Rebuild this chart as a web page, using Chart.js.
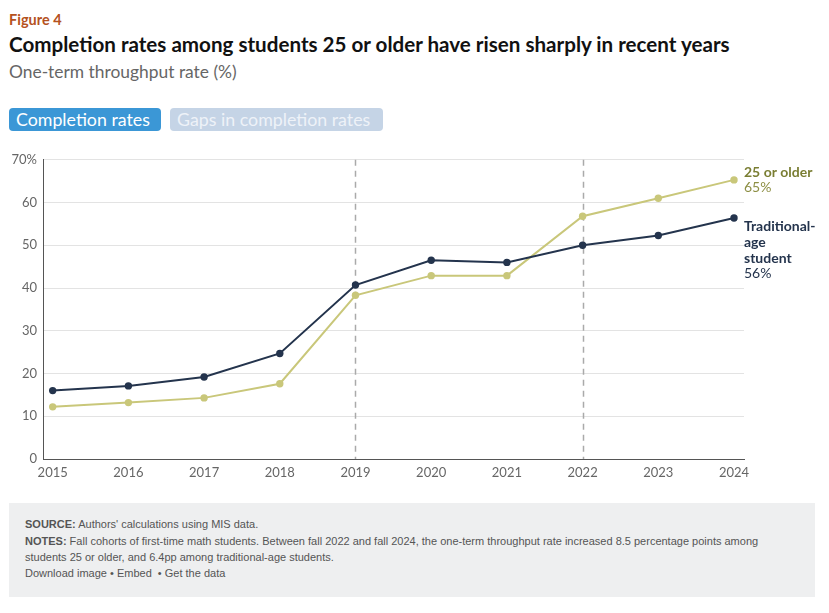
<!DOCTYPE html>
<html>
<head>
<meta charset="utf-8">
<script src="https://cdn.jsdelivr.net/npm/chart.js@4"></script>
<style>
  html, body { margin:0; padding:0; background:#fff; }
  body { width:829px; height:613px; position:relative; overflow:hidden; font-family: Lato, "Open Sans", sans-serif; }
  .fig { position:absolute; left:9px; top:11px; font-size:14.5px; font-weight:700; color:#b5521e; }
  .title { position:absolute; left:9px; top:32px; font-size:20.6px; font-weight:700; color:#111; white-space:nowrap; }
  .sub { position:absolute; left:9px; top:61px; font-size:17.4px; color:#666; white-space:nowrap; }
  .btn { position:absolute; top:108px; height:23px; line-height:23px; border-radius:4px; font-size:17.8px; padding:0 7px; white-space:nowrap; }
  .b1 { left:9px; width:138px; background:#3b97d6; color:#fff; }
  .b2 { left:170px; width:199px; background:#c5d4e6; color:#eef2f8; }
  #wrap { position:absolute; left:0; top:146px; width:829px; height:346px; }
  .foot { position:absolute; left:9px; top:503px; width:806px; height:94px; background:#eeeff0; }
  .foot div { position:absolute; left:16px; font-family:"Liberation Sans Narrow","Arial Narrow","Liberation Sans",sans-serif; font-size:11px; color:#555; white-space:nowrap; }
</style>
</head>
<body>
<div class="fig">Figure 4</div>
<div class="title">Completion rates among students 25 or older have risen sharply in recent years</div>
<div class="sub">One-term throughput rate (%)</div>
<div class="btn b1">Completion rates</div>
<div class="btn b2">Gaps in completion rates</div>
<div id="wrap"><canvas id="c"></canvas></div>
<div class="foot">
  <div style="top:15px"><b>SOURCE:</b> Authors' calculations using MIS data.</div>
  <div style="top:32px"><b>NOTES:</b> Fall cohorts of first-time math students. Between fall 2022 and fall 2024, the one-term throughput rate increased 8.5 percentage points among</div>
  <div style="top:48px">students 25 or older, and 6.4pp among traditional-age students.</div>
  <div style="top:64px">Download image • Embed &nbsp;• Get the data</div>
</div>
<script>
const years = [2015, 2016, 2017, 2018, 2019, 2020, 2021, 2022, 2023, 2024];
const traditional = [16.0, 17.1, 19.2, 24.7, 40.7, 46.5, 46.0, 50.0, 52.3, 56.4];
const older25 = [12.2, 13.2, 14.3, 17.6, 38.3, 42.9, 42.9, 56.8, 61.0, 65.3];
const yTicks = [0, 10, 20, 30, 40, 50, 60, 70];
const markerYears = [2019, 2022];
const olderLabel = ["25 or older"];
const tradLabel = ["Traditional-", "age", "student"];

const darkCol = '#24344d';
const yelCol = '#c9c77a';

const toXY = arr => arr.map((v, i) => ({ x: years[i], y: v }));

const markerPlugin = {
  id: 'markers',
  beforeDatasetsDraw(chart) {
    const { ctx, chartArea, scales } = chart;
    ctx.save();
    ctx.strokeStyle = '#aaaaaa';
    ctx.lineWidth = 1.5;
    ctx.setLineDash([6, 5]);
    markerYears.forEach(yr => {
      const x = Math.round(scales.x.getPixelForValue(yr)) + 0.5;
      ctx.beginPath();
      ctx.moveTo(x, chartArea.top);
      ctx.lineTo(x, chartArea.bottom);
      ctx.stroke();
    });
    ctx.restore();
  },
  afterDraw(chart) {
    const { ctx, chartArea, scales } = chart;
    const x = chartArea.right;
    const n = years.length - 1;
    const yO = scales.y.getPixelForValue(older25[n]);
    const yT = scales.y.getPixelForValue(traditional[n]);
    ctx.save();
    ctx.textBaseline = 'middle';
    ctx.textAlign = 'left';
    ctx.font = 'bold 14px Lato, sans-serif';
    ctx.fillStyle = '#7a7e33';
    ctx.fillText(olderLabel[0], x, yO - 7);
    ctx.font = '14px Lato, sans-serif';
    ctx.fillStyle = '#8d8f45';
    ctx.fillText(Math.round(older25[n]) + '%', x, yO + 8);
    ctx.font = 'bold 14px Lato, sans-serif';
    ctx.fillStyle = darkCol;
    tradLabel.forEach((t, i) => ctx.fillText(t, x, yT + 9 + i * 15.7));
    ctx.font = '14px Lato, sans-serif';
    ctx.fillText(Math.round(traditional[n]) + '%', x, yT + 56);
    ctx.restore();
  }
};

new Chart(document.getElementById('c'), {
  type: 'line',
  data: {
    datasets: [
      { label: 'Traditional-age student', data: toXY(traditional), borderColor: darkCol, backgroundColor: darkCol,
        borderWidth: 2, pointRadius: 3.7, pointBorderWidth: 0, tension: 0 },
      { label: '25 or older', data: toXY(older25), borderColor: yelCol, backgroundColor: yelCol,
        borderWidth: 2, pointRadius: 3.7, pointBorderWidth: 0, tension: 0 }
    ]
  },
  options: {
    responsive: true,
    maintainAspectRatio: false,
    animation: false,
    layout: { padding: { left: 0, top: 5, right: 85, bottom: 0 } },
    plugins: { legend: { display: false }, tooltip: { enabled: false } },
    scales: {
      x: {
        type: 'linear',
        min: 2014.872,
        max: 2024.132,
        afterBuildTicks: s => { s.ticks = years.map(v => ({ value: v })); },
        afterFit: s => { s.height = 33; },
        grid: { display: false, drawTicks: false },
        border: { display: true, color: '#555', width: 1 },
        ticks: { padding: 6, color: '#666', font: { family: 'Lato', size: 13 }, maxRotation: 0, autoSkip: false,
                 callback: v => String(v) }
      },
      y: {
        min: 0, max: 70,
        afterBuildTicks: s => { s.ticks = yTicks.map(v => ({ value: v })); },
        afterFit: s => { s.width = 43; },
        grid: { color: '#e3e3e3', drawTicks: false },
        border: { display: true, color: '#555', width: 1 },
        ticks: { padding: 6, color: '#666', font: { family: 'Lato', size: 13 },
                 callback: v => v === 70 ? '70%' : String(v) }
      }
    }
  },
  plugins: [markerPlugin]
});
</script>
</body>
</html>
